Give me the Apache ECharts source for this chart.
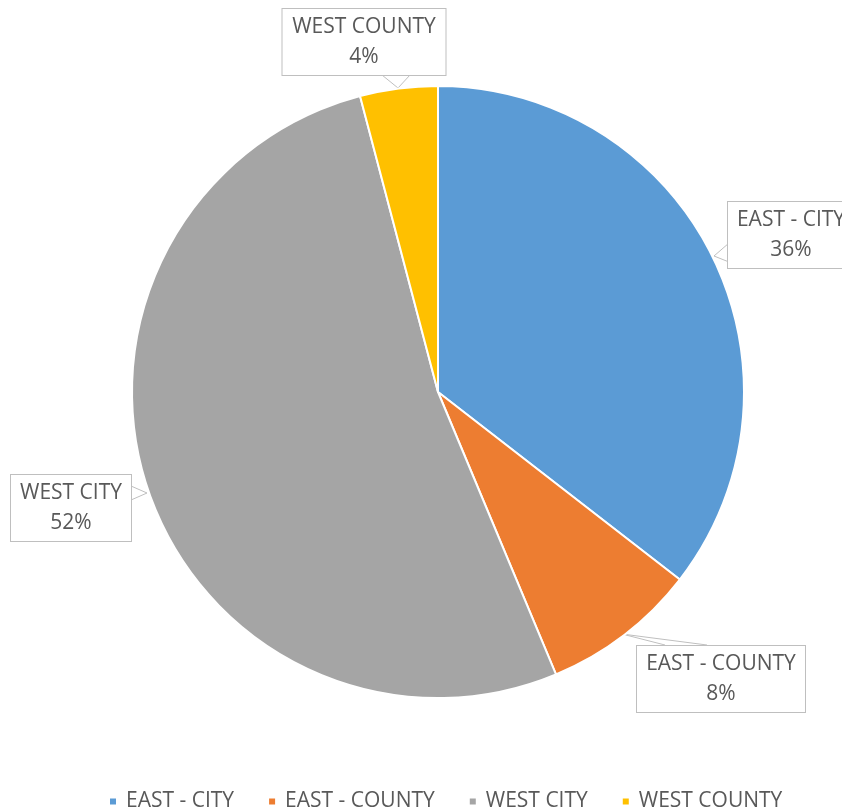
<!DOCTYPE html>
<html>
<head>
<meta charset="utf-8">
<script src="https://cdn.jsdelivr.net/npm/echarts@6/dist/echarts.min.js"></script>
<style>html,body{margin:0;padding:0;background:#fff;}#c{width:842px;height:812px;}</style>
</head>
<body>
<div id="c"></div>
<script>
var categories = ['EAST - CITY', 'EAST - COUNTY', 'WEST CITY', 'WEST COUNTY'];
var values = [35.5, 8.2, 52.2, 4.1];
var colors = ['#5B9BD5', '#ED7D31', '#A5A5A5', '#FFC000'];
var percentLabels = ['36%', '8%', '52%', '4%'];

// label box layout (centers, text widths) and callout wedge points
var boxCenters = [[791, 235], [721, 679], [71, 508], [364, 42]];
var boxWidths = [106, 148, 100, 143];
var calloutWedges = [
  [[729, 243], [714, 256], [729, 262]],
  [[665, 645], [622, 634], [707, 645]],
  [[131, 486], [147, 493], [131, 500]],
  [[382, 75], [398, 88], [410, 75]]
];

var chart = echarts.init(document.getElementById('c'), null, {renderer: 'canvas'});
var FONT = '"Open Sans", "Liberation Sans", sans-serif';
chart.setOption({
  animation: false,
  color: colors,
  legend: {
    top: 786,
    left: 103,
    icon: 'rect',
    itemWidth: 8,
    itemHeight: 8,
    itemGap: 33,
    textStyle: {color: '#595959', fontSize: 21, fontFamily: FONT, padding: [0, 0, 0, 4]},
    data: categories
  },
  series: [{
    type: 'pie',
    center: [438, 392],
    radius: 306,
    startAngle: 90,
    clockwise: true,
    itemStyle: {borderColor: '#fff', borderWidth: 2},
    label: {
      show: true,
      overflow: 'none',
      formatter: function (p) { return p.name + '\n' + percentLabels[p.dataIndex]; },
      color: '#595959',
      fontSize: 21,
      fontFamily: FONT,
      lineHeight: 30,
      backgroundColor: '#fff',
      borderColor: '#bfbfbf',
      borderWidth: 1,
      padding: [3, 10],
      align: 'center'
    },
    labelLine: {show: true, lineStyle: {color: '#bfbfbf', width: 1}, smooth: false},
    labelLayout: function (params) {
      var i = params.dataIndex;
      return {
        x: boxCenters[i][0],
        y: boxCenters[i][1],
        align: 'center',
        verticalAlign: 'middle',
        labelLinePoints: calloutWedges[i]
      };
    },
    data: categories.map(function (c, i) {
      return {name: c, value: values[i], label: {width: boxWidths[i]}};
    })
  }]
});
</script>
</body>
</html>
